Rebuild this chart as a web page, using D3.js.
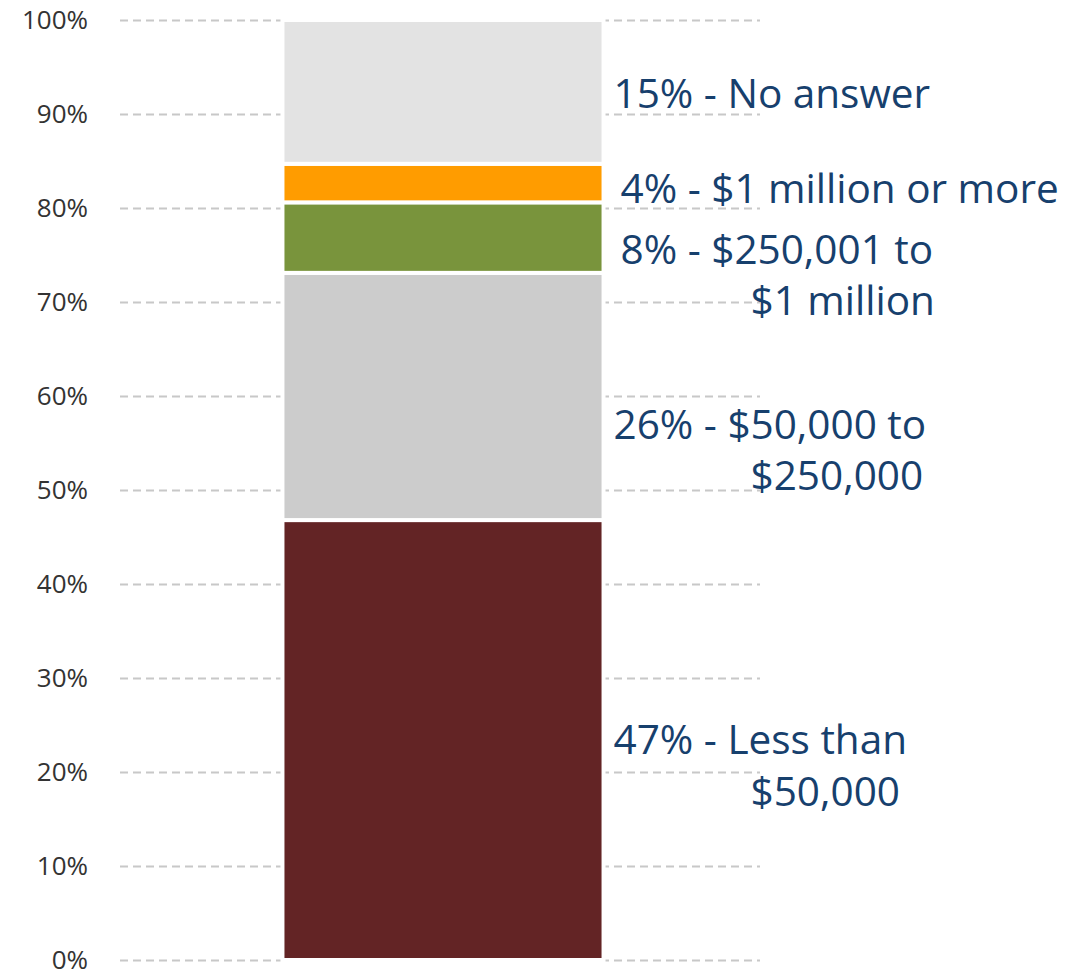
<!DOCTYPE html>
<html lang="en">
<head>
    <meta charset="UTF-8">
    <title>Stacked share bar</title>
    <script src="https://d3js.org/d3.v7.min.js"></script>
    <style>
        body { margin: 0; background: #fff; }
    </style>
</head>
<body>
<svg></svg>
<script>

    // values, bottom segment first
    let categories = ["Less than $50,000", "$50,000 to $250,000", "$250,001 to $1 million", "$1 million or more", "No answer"];
    let shares = [46.8, 26.3, 7.5, 4.1, 15.3];
    let pctLabels = ["47%", "26%", "8%", "4%", "15%"];
    let lineOne = ["Less than", "$50,000 to", "$250,001 to", "$1 million or more", "No answer"];
    let lineTwo = ["$50,000", "$250,000", "$1 million", "", ""];
    let colors = ["#632425", "#cccccc", "#79943c", "#ff9c00", "#e3e3e3"];
    let tickValues = d3.range(0, 101, 10);

    let width = 1068, height = 976;

    let svg = d3.select("svg")
        .attr("width", width)
        .attr("height", height);

    let y = d3.scaleLinear().domain([0, 100]).range([960, 20]);
    let x = d3.scaleBand().domain(["all"]).range([120, 766]).paddingInner(0).paddingOuter(0.506);

    // grid lines + tick labels
    let yAxis = d3.axisLeft(y)
        .tickValues(tickValues)
        .tickSize(-(760 - 120))
        .tickPadding(32)
        .tickFormat(d => d + "%");

    let g = svg.append("g")
        .attr("transform", "translate(120,0)")
        .call(yAxis);
    g.select(".domain").remove();
    g.selectAll(".tick line")
        .attr("stroke", "#c8c8c8")
        .attr("stroke-width", 2)
        .attr("stroke-dasharray", "8,5");
    g.selectAll(".tick text")
        .attr("fill", "#333")
        .attr("dy", "0.31em")
        .style("font-family", "'Open Sans', 'Noto Sans', sans-serif")
        .style("font-size", "26px");

    // stack
    let rows = shares.map((v, i) => {
        let start = d3.sum(shares.slice(0, i));
        return { i: i, v: v, y0: start, y1: start + v };
    });

    svg.append("g").selectAll("rect")
        .data(rows)
        .join("rect")
        .attr("x", x("all"))
        .attr("width", x.bandwidth())
        .attr("y", d => y(d.y1))
        .attr("height", d => y(d.y0) - y(d.y1))
        .attr("fill", d => colors[d.i])
        .attr("stroke", "#fff")
        .attr("stroke-width", 4);

    // labels beside the bar (small nudges so they don't collide)
    let labelNudge = [0, 28, 12, 6, 2];
    let labelX = x("all") + x.bandwidth() + 10;

    let labels = svg.append("g")
        .style("font-family", "'Open Sans', 'Noto Sans', sans-serif")
        .style("font-size", "40.5px")
        .attr("fill", "#17406d")
        .selectAll("text")
        .data(rows)
        .join("text")
        .attr("x", d => labelX + (pctLabels[d.i].length < 3 ? 7 : 0))
        .attr("y", d => y((d.y0 + d.y1) / 2) + labelNudge[d.i])
        .attr("dy", "0.35em");

    labels.append("tspan")
        .text(d => pctLabels[d.i] + " - " + lineOne[d.i]);
    labels.append("tspan")
        .attr("x", labelX + 137)
        .attr("dy", "1.27em")
        .text(d => lineTwo[d.i]);

</script>
</body>
</html>
